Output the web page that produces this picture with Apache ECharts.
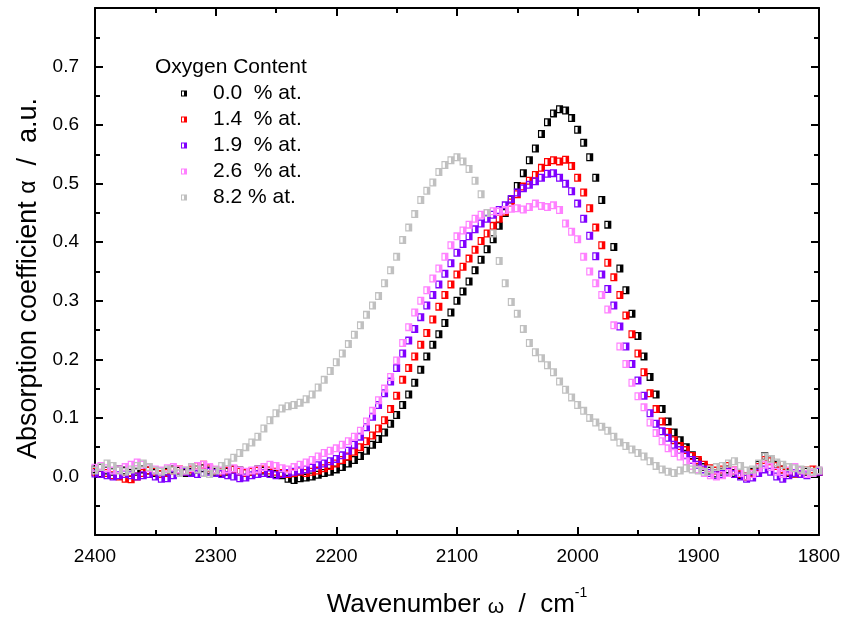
<!DOCTYPE html>
<html>
<head>
<meta charset="utf-8">
<script src="https://cdn.jsdelivr.net/npm/echarts@6/dist/echarts.min.js"></script>
<style>html,body{margin:0;padding:0;background:#fff;}#c{width:844px;height:623px;}</style>
</head>
<body>
<div id="c"></div>
<script>
var wavenumbers = [2400,2395,2390,2385,2380,2375,2370,2365,2360,2355,2350,2345,2340,2335,2330,2325,2320,2315,2310,2305,2300,2295,2290,2285,2280,2275,2270,2265,2260,2255,2250,2245,2240,2235,2230,2225,2220,2215,2210,2205,2200,2195,2190,2185,2180,2175,2170,2165,2160,2155,2150,2145,2140,2135,2130,2125,2120,2115,2110,2105,2100,2095,2090,2085,2080,2075,2070,2065,2060,2055,2050,2045,2040,2035,2030,2025,2020,2015,2010,2005,2000,1995,1990,1985,1980,1975,1970,1965,1960,1955,1950,1945,1940,1935,1930,1925,1920,1915,1910,1905,1900,1895,1890,1885,1880,1875,1870,1865,1860,1855,1850,1845,1840,1835,1830,1825,1820,1815,1810,1805,1800];

var seriesNames = ['0.0  % at.', '1.4  % at.', '1.9  % at.', '2.6  % at.', '8.2 % at.'];
var seriesColors = ['#000000', '#ff0000', '#8000ff', '#ff80ff', '#c0c0c0'];

var o00 = [0.012,0.015,0.010,0.008,0.012,0.010,0.006,0.008,0.012,0.010,0.006,0.004,0.008,0.012,0.010,0.006,0.008,0.012,0.014,0.010,0.008,0.006,0.008,0.012,0.010,0.006,0.008,0.012,0.010,0.006,0.004,0.002,-0.004,-0.006,-0.003,-0.002,0.000,0.003,0.006,0.008,0.012,0.016,0.022,0.028,0.035,0.044,0.054,0.064,0.075,0.090,0.105,0.122,0.140,0.160,0.182,0.205,0.225,0.243,0.262,0.280,0.300,0.316,0.333,0.352,0.370,0.388,0.405,0.428,0.450,0.473,0.496,0.518,0.540,0.560,0.585,0.605,0.620,0.627,0.625,0.612,0.592,0.570,0.545,0.510,0.472,0.430,0.392,0.355,0.318,0.278,0.240,0.205,0.170,0.140,0.115,0.094,0.075,0.062,0.050,0.036,0.025,0.016,0.010,0.005,0.008,0.012,0.006,0.002,0.000,0.008,0.020,0.035,0.030,0.020,0.012,0.006,0.005,0.010,0.008,0.006,0.008];

var o14 = [0.008,0.004,0.006,0.002,0.000,-0.004,-0.005,0.000,0.006,0.010,0.008,0.004,0.006,0.010,0.012,0.008,0.012,0.018,0.020,0.014,0.010,0.008,0.010,0.012,0.008,0.006,0.008,0.010,0.012,0.010,0.008,0.006,0.004,0.006,0.008,0.006,0.008,0.010,0.014,0.018,0.022,0.028,0.034,0.042,0.050,0.060,0.070,0.082,0.096,0.115,0.138,0.165,0.185,0.205,0.225,0.245,0.268,0.290,0.310,0.328,0.345,0.358,0.372,0.387,0.402,0.415,0.428,0.440,0.452,0.468,0.482,0.495,0.505,0.515,0.527,0.537,0.540,0.538,0.541,0.530,0.510,0.485,0.458,0.425,0.395,0.365,0.340,0.310,0.275,0.243,0.210,0.178,0.142,0.115,0.094,0.076,0.062,0.052,0.045,0.035,0.028,0.020,0.014,0.010,0.012,0.018,0.010,0.004,0.000,0.006,0.016,0.028,0.026,0.018,0.012,0.008,0.005,0.004,0.010,0.012,0.008];

var o19 = [0.005,0.004,0.002,0.000,0.002,0.004,0.002,0.000,0.002,0.004,0.000,-0.004,-0.003,0.002,0.006,0.008,0.006,0.004,0.006,0.008,0.006,0.004,0.002,0.000,-0.003,-0.002,0.002,0.004,0.006,0.004,0.002,0.004,0.006,0.008,0.010,0.012,0.015,0.019,0.022,0.026,0.030,0.036,0.044,0.054,0.068,0.084,0.102,0.122,0.142,0.162,0.185,0.210,0.232,0.252,0.272,0.292,0.310,0.328,0.346,0.364,0.382,0.397,0.410,0.422,0.432,0.440,0.447,0.455,0.463,0.474,0.485,0.492,0.498,0.504,0.510,0.517,0.518,0.510,0.500,0.487,0.466,0.440,0.411,0.376,0.345,0.320,0.292,0.256,0.222,0.192,0.164,0.138,0.108,0.090,0.077,0.066,0.054,0.045,0.036,0.028,0.020,0.012,0.006,0.002,0.004,0.008,0.004,0.000,-0.004,-0.002,0.006,0.012,0.008,0.000,-0.004,0.002,0.006,0.004,0.002,0.006,0.008];

var o26 = [0.015,0.018,0.014,0.010,0.012,0.016,0.020,0.024,0.020,0.014,0.012,0.010,0.014,0.016,0.012,0.010,0.014,0.018,0.020,0.016,0.012,0.010,0.012,0.014,0.010,0.008,0.010,0.012,0.016,0.020,0.018,0.014,0.012,0.016,0.020,0.024,0.028,0.034,0.040,0.044,0.048,0.054,0.060,0.068,0.078,0.094,0.112,0.130,0.150,0.170,0.198,0.228,0.255,0.280,0.300,0.318,0.338,0.355,0.375,0.395,0.410,0.420,0.430,0.440,0.447,0.450,0.453,0.452,0.455,0.457,0.458,0.456,0.460,0.466,0.462,0.460,0.463,0.455,0.432,0.418,0.405,0.375,0.350,0.330,0.310,0.285,0.258,0.222,0.192,0.160,0.137,0.118,0.092,0.074,0.060,0.048,0.040,0.034,0.026,0.018,0.012,0.006,0.002,0.000,0.002,0.006,0.010,0.006,0.000,0.004,0.014,0.020,0.016,0.008,0.004,0.010,0.016,0.010,0.004,0.006,0.010];

var o82 = [0.010,0.016,0.022,0.018,0.010,0.008,0.012,0.018,0.022,0.016,0.010,0.008,0.012,0.010,0.006,0.010,0.016,0.012,0.006,0.004,0.010,0.018,0.024,0.032,0.040,0.050,0.058,0.068,0.082,0.096,0.108,0.116,0.120,0.122,0.126,0.132,0.140,0.152,0.165,0.180,0.195,0.210,0.226,0.242,0.258,0.276,0.292,0.308,0.330,0.352,0.375,0.404,0.425,0.448,0.472,0.488,0.502,0.520,0.532,0.540,0.545,0.538,0.525,0.505,0.482,0.450,0.415,0.368,0.330,0.298,0.278,0.252,0.228,0.212,0.202,0.190,0.178,0.162,0.148,0.135,0.122,0.112,0.100,0.092,0.085,0.078,0.068,0.058,0.052,0.046,0.040,0.034,0.026,0.018,0.012,0.008,0.006,0.010,0.014,0.012,0.010,0.008,0.012,0.016,0.018,0.022,0.026,0.018,0.010,0.012,0.022,0.034,0.030,0.024,0.020,0.016,0.014,0.012,0.010,0.008,0.010];

var seriesValues = [o00, o14, o19, o26, o82];

var halfSquare = 'path://M0 0H8V8H0Z M1.3 1.3V6.7H4V1.3Z';

function pairs(ys) {
  var out = [];
  for (var i = 0; i < wavenumbers.length; i++) out.push([wavenumbers[i], ys[i]]);
  return out;
}

var FONT = 'Liberation Sans, Arial, sans-serif';

var chart = echarts.init(document.getElementById('c'), null, {renderer: 'canvas'});

function xAx(pos, showLabel) {
  return {
    type: 'value', position: pos, min: 1800, max: 2400, interval: 100, inverse: true,
    axisLine: {show: true, onZero: false, lineStyle: {color: '#000', width: 2}},
    axisTick: {show: true, inside: true, length: 8, lineStyle: {color: '#000', width: 2}},
    minorTick: {show: true, splitNumber: 2, length: 5, lineStyle: {color: '#000', width: 2}},
    splitLine: {show: false},
    axisLabel: {show: showLabel, color: '#000', fontSize: 19, fontFamily: FONT, margin: 12,
      formatter: function (v) { return String(v); }},
    name: showLabel ? '{b|Wavenumber }{g|ω}{b|  /  cm}{s|-1}' : '',
    nameLocation: 'middle', nameGap: 51,
    nameTextStyle: {
      color: '#000', fontFamily: FONT,
      rich: {
        b: {fontSize: 26, fontFamily: FONT, color: '#000', lineHeight: 32, verticalAlign: 'bottom'},
        g: {fontSize: 21, fontFamily: FONT, color: '#000', lineHeight: 32, verticalAlign: 'bottom'},
        s: {fontSize: 14, fontFamily: FONT, color: '#000', lineHeight: 32, verticalAlign: 'top'}
      }
    }
  };
}

function yAx(pos, showLabel) {
  return {
    type: 'value', position: pos, min: -0.1, max: 0.8, interval: 0.1,
    axisLine: {show: true, onZero: false, lineStyle: {color: '#000', width: 2}},
    axisTick: {show: true, inside: true, length: 8, lineStyle: {color: '#000', width: 2}},
    minorTick: {show: true, splitNumber: 2, length: 5, lineStyle: {color: '#000', width: 2}},
    splitLine: {show: false},
    axisLabel: {
      show: showLabel, color: '#000', fontSize: 19, fontFamily: FONT, margin: 16,
      formatter: function (v) {
        if (v < -0.05 || v > 0.75) return '';
        return (Math.abs(v) < 1e-9 ? 0 : v).toFixed(1);
      }
    },
    name: showLabel ? '{b|Absorption coefficient }{g|α}{b|  /  a.u.}' : '',
    nameLocation: 'middle', nameGap: 53, nameRotate: 90,
    nameTextStyle: {
      color: '#000', fontFamily: FONT, padding: [0, 14, 0, 0],
      rich: {
        b: {fontSize: 27, fontFamily: FONT, color: '#000'},
        g: {fontSize: 23, fontFamily: FONT, color: '#000'}
      }
    }
  };
}

var series = [];
for (var k = 0; k < seriesNames.length; k++) {
  series.push({
    name: seriesNames[k],
    type: 'scatter',
    xAxisIndex: 0, yAxisIndex: 0,
    data: pairs(seriesValues[k]),
    symbol: halfSquare,
    symbolSize: [7, 8],
    itemStyle: {color: seriesColors[k], opacity: 1},
    emphasis: {disabled: true},
    z: 2 + k
  });
}

chart.setOption({
  animation: false,
  backgroundColor: '#ffffff',
  title: {
    text: 'Oxygen Content', left: 150, top: 52,
    textStyle: {fontFamily: FONT, fontSize: 21, fontWeight: 'normal', color: '#000'}
  },
  legend: {
    orient: 'vertical', left: 176, top: 78,
    itemWidth: 6, itemHeight: 7, itemGap: 5,
    icon: halfSquare,
    data: seriesNames,
    textStyle: {fontFamily: FONT, fontSize: 21, color: '#000', padding: [0, 0, 0, 21]},
    selectedMode: false
  },
  grid: {left: 95, right: 25, top: 8, bottom: 83, containLabel: false},
  xAxis: [xAx('bottom', true), xAx('top', false)],
  yAxis: [yAx('left', true), yAx('right', false)],
  series: series
});
</script>
</body>
</html>
